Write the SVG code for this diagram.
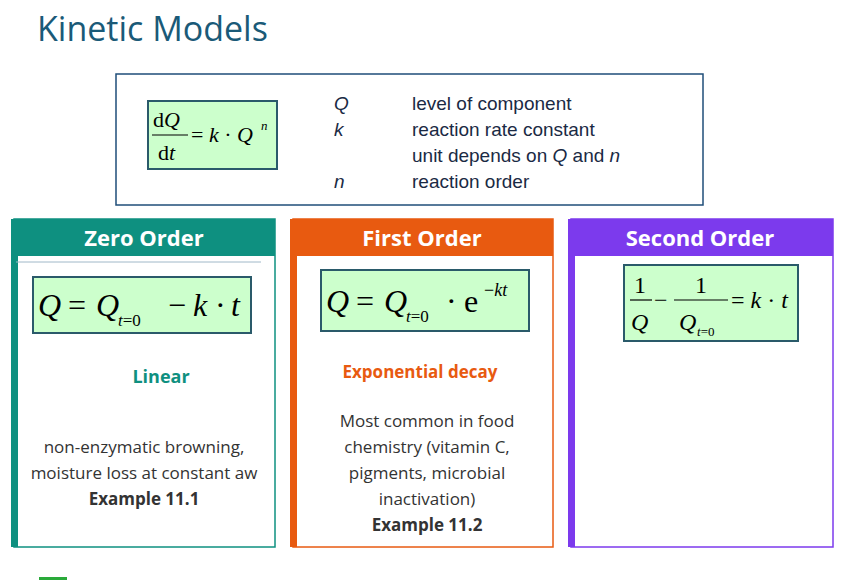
<svg xmlns="http://www.w3.org/2000/svg" width="843" height="580" viewBox="0 0 843 580">
<style>
.t{font-family:"Open Sans","Liberation Sans",sans-serif}
.h{font-family:"Open Sans","Liberation Sans",sans-serif;font-size:22px;font-weight:bold;fill:#fff;text-anchor:middle}
.m{font-family:"Liberation Serif",serif;font-style:italic}
.r{font-family:"Liberation Serif",serif}
.a{font-family:"Liberation Sans",sans-serif;font-size:19px;fill:#1a2a44}
.b{font-family:"Open Sans","Liberation Sans",sans-serif;font-size:17px;fill:#333;text-anchor:middle}
.eq{fill:#ccffcc;stroke:#2a5a6a;stroke-width:2}
</style>
<rect width="843" height="580" fill="#fff"/>
<text x="37" y="41" class="t" font-size="34" fill="#1a5a78">Kinetic Models</text>
<g id="definition">
<rect x="116" y="74" width="587" height="131" fill="#fff" stroke="#1f4e79" stroke-width="1.5"/>
<rect x="148" y="101" width="129" height="68" class="eq"/>
<text x="153" y="127" class="r" font-size="22">d<tspan class="m">Q</tspan></text>
<line x1="152" y1="135" x2="188" y2="135" stroke="#000" stroke-width="1.2"/>
<text x="158" y="160" class="r" font-size="22">d<tspan class="m">t</tspan></text>
<text x="191" y="142" class="r" font-size="22">= <tspan class="m">k</tspan> · <tspan class="m">Q</tspan></text>
<text x="261" y="130" class="m" font-size="13">n</text>
<text x="334" y="110" class="a" font-style="italic">Q</text>
<text x="334" y="136" class="a" font-style="italic">k</text>
<text x="334" y="188" class="a" font-style="italic">n</text>
<text x="412" y="110" class="a">level of component</text>
<text x="412" y="136" class="a">reaction rate constant</text>
<text x="412" y="162" class="a">unit depends on <tspan font-style="italic">Q</tspan> and <tspan font-style="italic">n</tspan></text>
<text x="412" y="188" class="a">reaction order</text>
</g>
<g id="zero">
<rect x="14" y="219" width="261" height="328" fill="#fff" stroke="#0e9080" stroke-width="1.5"/>
<rect x="11" y="219" width="7" height="328" fill="#0e9080"/>
<rect x="11" y="219" width="264" height="37" fill="#0e9080"/>
<text x="144" y="246" class="h">Zero Order</text>
<line x1="16" y1="262" x2="261" y2="262" stroke="#a0b8c8" stroke-width="1"/>
<rect x="33" y="277" width="134" height="56" class="eq" transform="scale(1)"/>
<rect x="33" y="277" width="218" height="56" class="eq"/>
<text x="38" y="316" class="m" font-size="32">Q</text>
<text x="68" y="316" class="r" font-size="32">=</text>
<text x="96" y="316" class="m" font-size="32">Q</text>
<text x="118" y="326" font-size="17"><tspan class="m">t</tspan><tspan class="r">=0</tspan></text>
<text x="168" y="316" class="r" font-size="32">−</text>
<text x="193" y="316" class="m" font-size="32">k</text>
<text x="215" y="316" class="r" font-size="32">·</text>
<text x="231" y="316" class="m" font-size="32">t</text>
<text x="161" y="383" class="t" font-size="18" font-weight="bold" fill="#0e9080" text-anchor="middle">Linear</text>
<text x="144" y="453" class="b">non-enzymatic browning,</text>
<text x="144" y="479" class="b">moisture loss at constant aw</text>
<text x="144" y="505" class="b" font-weight="bold">Example 11.1</text>
</g>
<g id="first">
<rect x="293" y="219" width="260" height="328" fill="#fff" stroke="#e85a10" stroke-width="1.5"/>
<rect x="290" y="219" width="7" height="328" fill="#e85a10"/>
<rect x="290" y="219" width="263" height="37" fill="#e85a10"/>
<text x="422" y="246" class="h">First Order</text>
<rect x="321" y="270" width="208" height="61" class="eq"/>
<text x="326" y="312" class="m" font-size="32">Q</text>
<text x="356" y="312" class="r" font-size="32">=</text>
<text x="384" y="312" class="m" font-size="32">Q</text>
<text x="406" y="322" font-size="17"><tspan class="m">t</tspan><tspan class="r">=0</tspan></text>
<text x="446" y="312" class="r" font-size="32">·</text>
<text x="464" y="312" class="r" font-size="32">e</text>
<text x="484" y="296" font-size="18"><tspan class="r">−</tspan><tspan class="m">kt</tspan></text>
<text x="420" y="378" class="t" font-size="17" font-weight="bold" fill="#e85a10" text-anchor="middle">Exponential decay</text>
<text x="427" y="427" class="b">Most common in food</text>
<text x="427" y="453" class="b">chemistry (vitamin C,</text>
<text x="427" y="479" class="b">pigments, microbial</text>
<text x="427" y="505" class="b">inactivation)</text>
<text x="427" y="531" class="b" font-weight="bold">Example 11.2</text>
</g>
<g id="second">
<rect x="571" y="219" width="262" height="328" fill="#fff" stroke="#7c3aed" stroke-width="1.5"/>
<rect x="568" y="219" width="7" height="328" fill="#7c3aed"/>
<rect x="568" y="219" width="265" height="37" fill="#7c3aed"/>
<text x="700" y="246" class="h">Second Order</text>
<rect x="624" y="265" width="174" height="76" class="eq"/>
<text x="634" y="293" class="r" font-size="24">1</text>
<line x1="630" y1="300" x2="652" y2="300" stroke="#000" stroke-width="1.2"/>
<text x="631" y="330" class="m" font-size="24">Q</text>
<text x="654" y="308" class="r" font-size="24">−</text>
<text x="695" y="293" class="r" font-size="24">1</text>
<line x1="674" y1="300" x2="728" y2="300" stroke="#000" stroke-width="1.2"/>
<text x="679" y="330" class="m" font-size="24">Q</text>
<text x="697" y="336" font-size="13"><tspan class="m">t</tspan><tspan class="r">=0</tspan></text>
<text x="731" y="308" class="r" font-size="24">= <tspan class="m">k</tspan> · <tspan class="m">t</tspan></text>
</g>
<rect x="39" y="577" width="28" height="3" fill="#2aaa3a"/>
</svg>
